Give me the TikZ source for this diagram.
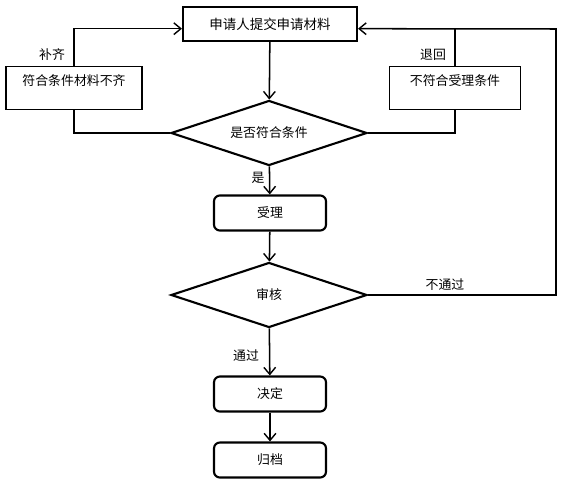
\documentclass[tikz,border=0pt]{standalone}
\usepackage{fontspec}
\newfontfamily\cjk{Noto Sans CJK SC}
\usetikzlibrary{shapes.geometric,arrows.meta}

\tikzset{
  flow/.style={line width=1.3pt, -{Straight Barb[length=6pt,width=10pt,line width=1.2pt]}},
  wire/.style={line width=1.3pt},
  mainbox/.style={draw, line width=1.8pt, minimum width=5.22cm, minimum height=1.02cm, inner sep=0pt},
  sidebox/.style={draw, line width=1.2pt, inner sep=0pt, text height=16pt, text depth=21pt},
  stepbox/.style={draw, line width=1.8pt, rounded corners=5pt, minimum width=3.36cm, minimum height=1.05cm, inner sep=0pt},
  check/.style={draw, diamond, aspect=3, line width=1.8pt, inner sep=1pt, minimum width=5.88cm, minimum height=1.95cm},
  tag/.style={inner sep=1pt}
}

\begin{document}
\begin{tikzpicture}[x=0.03cm, y=-0.03cm, font=\cjk\fontsize{11}{13}\selectfont]
    \useasboundingbox (0,0) rectangle (564,482);

    % 1. Main column
    \node[mainbox] (apply) at (270,24) {\fontsize{11.5}{13}\selectfont 申请人提交申请材料};
    \node[check] (cond) at (269,133) {是否符合条件};
    \node[stepbox] (accept) at (270,213) {受理};
    \node[check] (review) at (269,295) {审核};
    \node[stepbox] (decide) at (270,394) {决定};
    \node[stepbox] (archive) at (270,460) {归档};

    % 2. Side boxes
    \node[sidebox, minimum width=4.08cm] (lack) at (74,88) {符合条件材料不齐};
    \node[sidebox, minimum width=3.93cm] (reject) at (455,88) {不符合受理条件};

    % 3. Turn point on the far right
    \coordinate (farR) at (556,29);

    % 4. Straight flow down
    \draw[flow] (apply) -- (cond);
    \draw[flow] (cond) -- (accept);
    \draw[flow] (accept) -- (review);
    \draw[flow] (review) -- (decide);
    \draw[flow] (decide) -- (archive);

    % 5. Loops back to the top box
    \draw[wire] (cond.west) -| (lack.south);
    \draw[flow] (lack.north) |- ([yshift=-4pt]apply.west);
    \draw[wire] (cond.east) -| (reject.south);
    \draw[wire] (reject.north) -- (reject.north |- farR);
    \draw[flow] (review.east) -| (farR) -- ([yshift=-4pt]apply.east);

    % 6. Labels
    \node[tag] (lbFill) at (52,55) {补齐};
    \node[tag] (lbBack) at (433,55) {退回};
    \node[tag] (lbYes) at (258,178) {是};
    \node[tag] (lbFail) at (445,285) {不通过};
    \node[tag] (lbPass) at (246,356) {通过};
\end{tikzpicture}
\end{document}
